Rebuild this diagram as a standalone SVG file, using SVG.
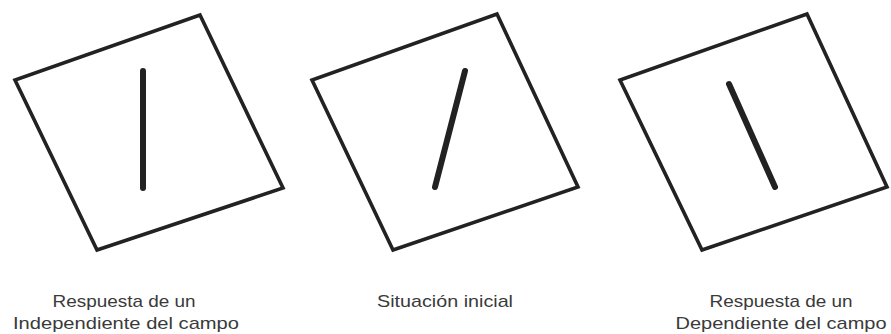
<svg xmlns="http://www.w3.org/2000/svg" width="891" height="334" viewBox="0 0 891 334">
<style>
.frame{fill:none;stroke:#222;stroke-width:3.6;stroke-linejoin:miter}
.rod{stroke:#222;stroke-width:6;stroke-linecap:round}
.lbl{font-family:"Liberation Sans",Arial,sans-serif;font-size:17px;fill:#3a3a3a;text-anchor:middle}
</style>
<rect width="891" height="334" fill="#fff"/>
<g id="node-independiente">
<polygon class="frame" points="200,15 283,188 97,250 15,80"/>
<line class="rod" x1="143" y1="71" x2="143" y2="188"/>
<text class="lbl" x="124" y="307" textLength="143" lengthAdjust="spacingAndGlyphs">Respuesta de un</text>
<text class="lbl" x="126" y="329" textLength="226" lengthAdjust="spacingAndGlyphs">Independiente del campo</text>
</g>
<g id="node-inicial">
<polygon class="frame" points="497,14 578,187 393,250 312,80"/>
<line class="rod" x1="465" y1="71" x2="435" y2="187"/>
<text class="lbl" x="445" y="307" textLength="136" lengthAdjust="spacingAndGlyphs">Situación inicial</text>
</g>
<g id="node-dependiente">
<polygon class="frame" points="807,14 887,187 702,250 620,80"/>
<line class="rod" x1="729" y1="84" x2="775" y2="187"/>
<text class="lbl" x="781" y="307" textLength="143" lengthAdjust="spacingAndGlyphs">Respuesta de un</text>
<text class="lbl" x="781" y="329" textLength="211" lengthAdjust="spacingAndGlyphs">Dependiente del campo</text>
</g>
<g id="connectors"/>
</svg>
